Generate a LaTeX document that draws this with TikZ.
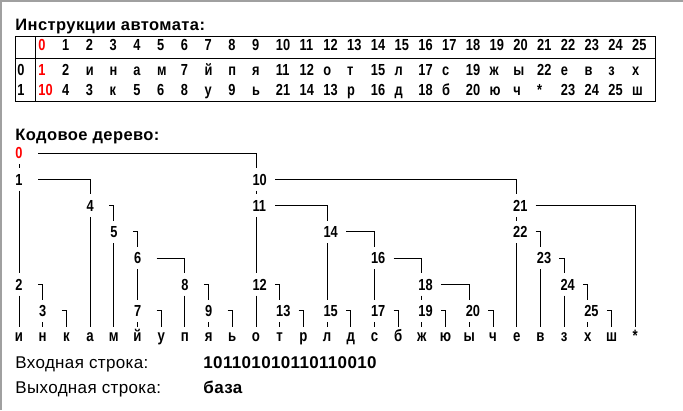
\documentclass[tikz,border=0pt]{standalone}
\usepackage{fontspec}
\setmainfont{Liberation Sans}[LetterSpace=2]
\newfontfamily\headfont{Liberation Sans}[LetterSpace=2.5]
\newfontfamily\gridfont{Liberation Sans}[FakeStretch=0.8]
\definecolor{framegray}{RGB}{160,160,160}

\begin{document}
\begin{tikzpicture}[x=1pt, y=-1pt, line width=0.9pt,
    heading/.style = {anchor=base west, inner sep=0pt, font=\headfont\fontsize{16.5}{18}\selectfont\bfseries},
    caption/.style = {anchor=base west, inner sep=0pt, font=\fontsize{17}{19}\selectfont},
    cell/.style = {anchor=base west, inner sep=0pt, font=\gridfont\fontsize{16}{17}\selectfont\bfseries},
    tnode/.style = {font=\gridfont\fontsize{16}{17}\selectfont\bfseries, text width=7pt, align=left,
      inner xsep=0pt, inner ysep=5pt, text height=11.5pt, text depth=0pt},
    leaf/.style = {font=\gridfont\fontsize{16.5}{17}\selectfont\bfseries,
      inner xsep=0pt, inner ysep=5pt, text height=8.5pt, text depth=0pt}]
    \useasboundingbox (0,0) rectangle (683,410);

    % window edge
    \draw[framegray, line width=2pt] (1,410) -- (1,1) -- (683,1);

    % 1. instruction table
    \node[heading] (ttitle) at (15,30) {Инструкции автомата:};
    \draw (15,36) rectangle (655,101);
    \draw (35,36) -- (35,101);
    \draw (15,58) -- (655,58);
    \node[cell] (r0) at (17,75) {0};
    \node[cell] (r1) at (17,95) {1};
    \node[cell, red] (h0) at (38,50) {0};
    \node[cell, red] (a0) at (38,75) {1};
    \node[cell, red] (b0) at (38,95) {10};
    \foreach \n in {1,...,25}
      \node[cell] (h\n) at ({38+23.75*\n},50) {\n};
    \foreach \t [count=\n] in {2,и,н,а,м,7,й,п,я,11,12,о,т,15,л,17,с,19,ж,ы,22,е,в,з,х}
      \node[cell] (a\n) at ({38+23.75*\n},75) {\t};
    \foreach \t [count=\n] in {4,3,к,5,6,8,у,9,ь,21,14,13,р,16,д,18,б,20,ю,ч,*,23,24,25,ш}
      \node[cell] (b\n) at ({38+23.75*\n},95) {\t};

    % 2. code tree (column, level)
    \node[heading] (ktitle) at (15,140) {Кодовое дерево:};
    \begin{scope}[shift={(19,153)}, x=23.7pt, y=-26.3pt]
      \node[tnode, red] (k0) at (0,0) {0};
      \foreach \n/\c/\l in {1/0/1, 2/0/5, 3/1/6, 4/3/2, 5/4/3, 6/5/4, 7/5/6, 8/7/5, 9/8/6,
          10/10/1, 11/10/2, 12/10/5, 13/11/6, 14/13/3, 15/13/6, 16/15/4, 17/15/6,
          18/17/5, 19/17/6, 20/19/6, 21/21/2, 22/21/3, 23/22/4, 24/23/5, 25/24/6}
        \node[tnode] (k\n) at (\c,\l) {\n};
      \foreach \ch [count=\j from 0] in {и,н,к,а,м,й,у,п,я,ь,о,т,р,л,д,с,б,ж,ю,ы,ч,е,в,з,х,ш,*}
        \node[leaf] (l\j) at (\j,7) {\ch};
    \end{scope}

    % branch 0 goes straight down, branch 1 goes right and then down
    \foreach \p/\a/\b in {k0/k1/k10, k1/k2/k4, k2/l0/k3, k3/l1/l2, k4/l3/k5, k5/l4/k6,
        k6/k7/k8, k7/l5/l6, k8/l7/k9, k9/l8/l9, k10/k11/k21, k11/k12/k14, k12/l10/k13,
        k13/l11/l12, k14/k15/k16, k15/l13/l14, k16/k17/k18, k17/l15/l16, k18/k19/k20,
        k19/l17/l18, k20/l19/l20, k21/k22/l26, k22/l21/k23, k23/l22/k24, k24/l23/k25,
        k25/l24/l25} {
      \draw (\p.south) -- (\a.north);
      \draw[shorten <=19pt] (\p.center) -| (\b.north);
    }

    % 3. input and output
    \node[caption] (inlbl) at (15,368) {Входная строка:};
    \node[caption, font=\fontsize{17}{19}\selectfont\bfseries] (inval) at (203,368) {101101010110110010};
    \node[caption] (outlbl) at (15,393) {Выходная строка:};
    \node[caption, font=\fontsize{17}{19}\selectfont\bfseries] (outval) at (203,393) {база};
\end{tikzpicture}
\end{document}
